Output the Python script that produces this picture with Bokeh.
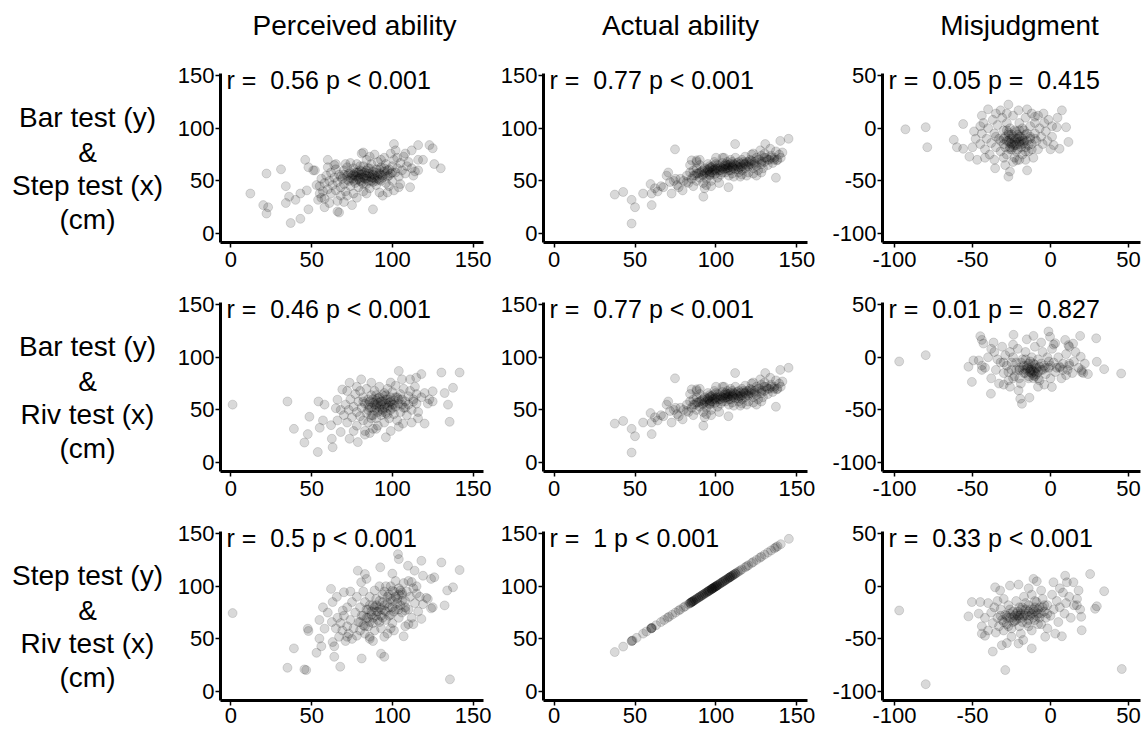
from bokeh.plotting import figure
from bokeh.layouts import gridplot, column
from bokeh.models import Range1d, Label, FixedTicker
from bokeh.embed import file_html
from bokeh.resources import INLINE
from bokeh.core.properties import value

FONT = "Liberation Sans"

# ---------------- data (cm) ----------------
col_titles = ["Perceived ability", "Actual ability", "Misjudgment"]
row_labels = [
    ["Bar test (y)", "&", "Step test (x)", "(cm)"],
    ["Bar test (y)", "&", "Riv test (x)", "(cm)"],
    ["Step test (y)", "&", "Riv test (x)", "(cm)"],
]
r_values = [["0.56", "0.77", "0.05"], ["0.46", "0.77", "0.01"], ["0.5", "1", "0.33"]]
p_values = [["< 0.001", "< 0.001", "= 0.415"], ["< 0.001", "< 0.001", "= 0.827"],
            ["< 0.001", "< 0.001", "< 0.001"]]
ticks_ability = [0, 50, 100, 150]
ticks_misjudgment = [-100, -50, 0, 50]

# row 1, perceived: step test (x) vs bar test (y)
perceived_step_bar = [
    (12, 38), (22, 57), (20, 27), (22, 19), (23, 25), (31, 61), (34, 45), (34, 29), (37, 10), (36, 35),
    (40, 32), (43, 38), (43, 14), (46, 70), (47, 41), (48, 63), (51, 60), (48, 23), (52, 60), (54, 32),
    (56, 34), (58, 25), (60, 70), (61, 29), (65, 66), (66, 21), (67, 20), (71, 66), (72, 36), (75, 27),
    (81, 76), (82, 77), (84, 70), (86, 73), (88, 23), (93, 70), (94, 36), (97, 39), (101, 41), (101, 85),
    (102, 79), (103, 72), (105, 47), (111, 44), (112, 79), (114, 59), (116, 84), (116, 70), (119, 70), (123, 84),
    (125, 81), (126, 66), (130, 62), (116, 60),
    (55, 45), (56, 52), (57, 40), (58, 48), (59, 55), (60, 42), (61, 50), (62, 38), (62, 58), (63, 46),
    (64, 53), (65, 41), (65, 61), (66, 49), (67, 56), (68, 44), (68, 36), (69, 52), (70, 60), (70, 47),
    (71, 40), (72, 55), (72, 63), (73, 50), (74, 45), (74, 58), (75, 52), (76, 62), (76, 38), (77, 48),
    (77, 55), (78, 66), (78, 51), (79, 58), (79, 44), (80, 53), (80, 60), (81, 49), (81, 56), (82, 64),
    (82, 40), (83, 52), (83, 58), (84, 47), (84, 55), (85, 62), (85, 50), (86, 57), (86, 43), (87, 53),
    (87, 66), (88, 59), (88, 49), (89, 55), (90, 61), (90, 46), (91, 52), (91, 68), (92, 57), (93, 50),
    (93, 63), (94, 55), (95, 59), (96, 48), (96, 66), (97, 54), (98, 61), (99, 57), (100, 64), (100, 50),
    (101, 70), (102, 58), (103, 62), (104, 54), (105, 67), (106, 60), (107, 73), (108, 57), (109, 64), (110, 68),
    (112, 62), (113, 55), (66, 31), (70, 30), (78, 34), (84, 38), (92, 39), (60, 63), (64, 65), (74, 67),
    (89, 75), (95, 72), (99, 76), (108, 76), (104, 44), (98, 45), (58, 33), (53, 46), (55, 38),
    (68, 54), (70, 56), (72, 51), (73, 57), (75, 55), (76, 50), (77, 58), (78, 54), (79, 52), (80, 56),
    (80, 50), (81, 59), (82, 53), (83, 55), (84, 52), (85, 57), (86, 54), (87, 50), (88, 56), (89, 52),
    (90, 58), (91, 55), (92, 51), (93, 56), (94, 53), (95, 62), (96, 57), (97, 60), (98, 55), (100, 58),
    (76, 56), (82, 47), (86, 62), (90, 50), (74, 53), (84, 60), (88, 53), (78, 58), (92, 61), (80, 64),
]

# rows 1 and 2, actual: step/riv test (x) vs bar test (y)
actual_step_bar = [
    (37.5, 37), (42.7, 39.5), (47.9, 32), (50, 25), (47.9, 9.5), (55, 38), (59.6, 47), (60.3, 38), (60.3, 27),
    (62.3, 43), (67.5, 44), (69.5, 55), (70.5, 58), (71.6, 49), (72.6, 38), (74.7, 80), (75, 52), (77, 44),
    (79.4, 41), (82, 49), (85, 69.5), (88, 69.5), (92.2, 35), (94, 46), (96, 56), (107.7, 44), (111.8, 85),
    (116, 56), (125, 55), (130.4, 85), (137, 53), (139.7, 88), (144.8, 90), (141, 77), (137.6, 69.5),
    (133.5, 80.5), (127.3, 79), (123, 76),
    (80, 50), (82, 55), (83, 48), (84, 58), (85, 52), (86, 60), (87, 55), (88, 50), (88, 62), (89, 57),
    (90, 53), (90, 65), (91, 59), (92, 55), (92, 48), (93, 62), (94, 58), (94, 52), (95, 66), (95, 60),
    (96, 55), (96, 62), (97, 58), (97, 50), (98, 64), (98, 60), (99, 56), (99, 68), (100, 62), (100, 57),
    (101, 53), (101, 65), (102, 60), (103, 63), (103, 56), (104, 67), (105, 61), (105, 72), (106, 58), (106, 64),
    (107, 62), (107, 68), (108, 55), (108, 65), (109, 60), (109, 70), (110, 63), (110, 57), (111, 66), (112, 61),
    (112, 72), (113, 64), (114, 58), (114, 68), (115, 63), (116, 70), (116, 60), (117, 66), (118, 62), (118, 73),
    (119, 68), (120, 64), (120, 58), (121, 70), (122, 66), (122, 75), (123, 62), (124, 68), (125, 72), (125, 64),
    (126, 60), (127, 70), (128, 66), (128, 74), (129, 62), (130, 68), (130, 76), (131, 72), (132, 65), (133, 70),
    (134, 74), (135, 67), (136, 72), (137, 78), (138, 70), (139, 75), (140, 72), (86, 45), (90, 70), (93, 43),
    (97, 45), (102, 48), (104, 72), (111, 54), (115, 54), (119, 55), (123, 57), (128, 58), (84, 65), (88, 68),
    (100, 72), (76, 46), (78, 52), (74, 50), (64, 40), (66, 45),
    (88, 57), (90, 58), (92, 60), (93, 57), (95, 61), (96, 59), (97, 63), (98, 58), (99, 61), (100, 60),
    (101, 62), (102, 64), (103, 60), (104, 62), (105, 64), (106, 62), (107, 65), (108, 63), (108, 60), (109, 66),
    (110, 64), (111, 62), (112, 65), (113, 67), (114, 63), (115, 66), (116, 64), (117, 68), (118, 66), (119, 64),
    (120, 68), (121, 66), (122, 69), (124, 66), (126, 70), (128, 68), (130, 72), (132, 70), (134, 72), (136, 70),
    (96, 64), (100, 66), (104, 58), (92, 56), (86, 55), (110, 68), (114, 61), (106, 66),
]

# row 1, misjudgment: step test (x) vs bar test (y)
misjudge_step_bar = [
    (-93, -1), (-80, 1), (-79, -18), (-62, -11), (-60, -18), (-56, 4), (-56, -19.5), (-52, -27), (-47, -30),
    (-49, -3), (-44, 12), (-40, 18), (-35.5, -38), (-32, 17), (-29, -35), (-27, 22.5), (-27, -46), (-26, -41),
    (-20.5, 17), (-15, 18), (-15, -40), (-10, 11), (-4.5, 14), (-1.3, 8), (1, -8), (4, 1), (4.5, 10),
    (7.3, 17), (10, 1), (11.5, -13), (5.8, -19.5), (2, -16), (-21.6, -30.5),
    (-45, -15), (-44, -5), (-43, 5), (-42, -20), (-41, -10), (-40, 0), (-39, -25), (-38, -14), (-37, 8), (-36, -5),
    (-35, -18), (-34, 3), (-33, -10), (-32, -22), (-31, 10), (-30, -2), (-30, -15), (-29, -8), (-28, 5), (-28, -25),
    (-27, -12), (-26, 0), (-26, -18), (-25, -6), (-24, 12), (-24, -14), (-23, -28), (-22, -3), (-22, -10), (-21, -20),
    (-20, 5), (-20, -15), (-19, -8), (-18, -25), (-18, 0), (-17, -12), (-16, 10), (-16, -18), (-15, -5), (-14, -22),
    (-13, 2), (-13, -10), (-12, -15), (-11, -28), (-10, -5), (-10, 5), (-9, -12), (-8, -20), (-7, 0), (-6, -8),
    (-5, -15), (-4, 5), (-3, -3), (-2, -12), (0, -20), (1, 2), (-24, -32), (-20, -30), (-16, -30), (-36, -30),
    (-30, -28), (-8, 12), (-28, 14), (-35, 14), (-12, 14), (-45, 2), (-48, -10), (-50, -18), (-42, -28), (-26, -20),
    (-23, -16), (-21, -6), (-19, -12), (-17, -2), (-27, -6), (-25, -10), (-23, -2), (-29, -18),
    (-30, -10), (-28, -12), (-27, -4), (-26, -10), (-25, -15), (-24, -8), (-23, -12), (-22, -16), (-21, -10), (-20, -8),
    (-20, -13), (-19, -18), (-18, -10), (-17, -14), (-16, -6), (-15, -12), (-14, -16), (-13, -8), (-25, -20), (-22, -22),
    (-18, -15), (-12, -20), (-28, -2), (-32, -12), (-35, -8), (-10, -10), (-24, -18), (-16, -22), (-20, -2), (-26, -14),
]

# row 2, perceived: riv test (x) vs bar test (y)
perceived_riv_bar = [
    (1, 55), (35, 58), (39, 32), (45.5, 19), (47.6, 27), (48.6, 43.5), (53.8, 10), (54.2, 58), (55, 33), (57, 40),
    (58, 55), (62, 35.5), (62.5, 22.6), (63, 14.5), (65, 51.6), (66, 59.7), (68, 29), (69, 69.4), (73.5, 75.8),
    (73.5, 22.6), (78.6, 19.4), (80.7, 79), (83, 26.5), (87, 75.8), (90, 32), (96, 24), (99, 76), (104, 87),
    (106, 79), (106.6, 37), (111, 79), (114.8, 80.6), (115.9, 42), (118, 84), (120, 37), (122, 56), (125, 58),
    (125, 67.7), (130.4, 85.5), (132.4, 66), (134.5, 55), (135.5, 38.7), (137.6, 71), (141.7, 85.5), (115, 65),
    (113, 58),
    (70, 45), (71, 55), (72, 38), (73, 50), (74, 60), (75, 43), (76, 53), (77, 65), (78, 48), (78, 35),
    (79, 58), (80, 44), (80, 68), (81, 52), (82, 40), (82, 62), (83, 56), (84, 47), (84, 70), (85, 60),
    (85, 38), (86, 52), (87, 64), (87, 45), (88, 57), (88, 32), (89, 50), (89, 68), (90, 55), (90, 42),
    (91, 61), (91, 48), (92, 53), (92, 72), (93, 58), (93, 45), (94, 50), (94, 64), (95, 55), (95, 38),
    (96, 60), (96, 47), (97, 52), (97, 70), (98, 57), (98, 42), (99, 62), (99, 50), (100, 55), (100, 67),
    (101, 46), (101, 59), (102, 53), (102, 73), (103, 62), (103, 40), (104, 56), (105, 65), (105, 48), (106, 60),
    (107, 52), (107, 70), (108, 58), (109, 45), (110, 63), (110, 55), (111, 68), (112, 50), (113, 60), (114, 72),
    (115, 56), (76, 30), (83, 30), (66, 40), (68, 50), (72, 68), (78, 72), (86, 28), (91, 35), (99, 30),
    (104, 34), (116, 48), (118, 62), (120, 66), (123, 60), (112, 38),
    (85, 55), (86, 58), (87, 52), (88, 60), (89, 55), (90, 52), (90, 59), (91, 57), (92, 50), (92, 62),
    (93, 55), (94, 58), (94, 48), (95, 52), (96, 56), (96, 64), (97, 60), (98, 54), (99, 58), (100, 52),
    (101, 55), (102, 62), (104, 60), (85, 50), (88, 45), (82, 58), (106, 55), (108, 52), (95, 66), (90, 64),
    (87, 42), (97, 46),
]

# row 2, misjudgment: riv test (x) vs bar test (y)
misjudge_riv_bar = [
    (-97, -4), (-80, 2), (-52.6, -9), (-49.4, -3), (-45, 20), (-44, 16.5), (-43, 13), (-50.4, -23.4), (-44, -8),
    (-38.2, -34.6), (-36.5, 14), (-23.7, 21.3), (-20.5, -31.4), (-19.4, -39.4), (-18.3, -44.2), (-13.5, -38.4),
    (-15.2, 17), (-10.9, 20.3), (-1.3, 24.5), (-0.3, 19.5), (0.9, -28.2), (3, 13.3), (9.4, 16.5), (11.5, 11.5),
    (14.5, 13), (19, 20.3), (19.4, 0.5), (20, -12.2), (21, -15), (29.3, 18), (29.7, -4.3), (34.4, -11.3),
    (45.3, -15.4), (6, -9), (12, -6), (10, -17),
    (-42, -10), (-40, 0), (-38, -20), (-36, 5), (-35, -12), (-33, -25), (-32, -5), (-31, 10), (-30, -15), (-29, 2),
    (-28, -8), (-27, -22), (-26, 5), (-25, -12), (-24, 0), (-23, -18), (-22, -5), (-21, 8), (-20, -12), (-19, -25),
    (-18, -2), (-17, -15), (-16, 5), (-15, -8), (-14, -20), (-13, -12), (-12, 0), (-12, -15), (-11, -6), (-10, 10),
    (-10, -18), (-9, -10), (-8, -2), (-7, -22), (-6, -12), (-5, 5), (-4, -8), (-3, -16), (-2, 0), (-1, -10),
    (0, -20), (1, 8), (2, -5), (3, -14), (5, 0), (6, -10), (7, -20), (8, -6), (10, 3), (11, -12),
    (12, -8), (14, -15), (15, -4), (16, 5), (18, -10), (20, -14), (22, -6), (24, -16), (-12, -12), (-14, -10),
    (-10, -14), (-16, -12), (-20, -20), (-26, -28), (-8, -28), (-4, -26), (-30, -26), (-34, -2), (-44, -12), (-46, -3),
    (-38, 8), (-24, 12), (-6, 14), (2, 12), (12, 10), (-11, -20), (-13, -4), (-9, -16),
    (-20, -10), (-18, -12), (-17, -8), (-16, -15), (-15, -11), (-14, -6), (-13, -14), (-12, -9), (-11, -13), (-10, -7),
    (-9, -11), (-8, -14), (-7, -9), (-6, -6), (-5, -12), (-14, -18), (-11, -17), (-19, -5), (-22, -12), (-25, -5),
    (-27, -14), (-3, -10), (0, -8), (4, -10), (8, -12), (-8, -20), (-16, -2), (-24, -20), (-30, -5), (-1, -4),
]

# row 3, perceived: riv test (x) vs step test (y)
perceived_riv_step = [
    (1, 74.5), (35, 22.6), (39, 41), (45.5, 21), (46.6, 20.4), (47.6, 59.7), (48, 57.5), (53, 36.8), (54.8, 50.3),
    (56, 43), (54.8, 68), (57, 80), (58, 59.7), (62, 97.5), (62.5, 66), (63, 47), (64, 43), (64, 33), (65.6, 90),
    (67.7, 23.6), (69.3, 77), (70, 94.3), (72, 52), (78.6, 114.8), (80.7, 103.8), (81, 31.4), (83, 111.6),
    (84, 107), (86, 50), (92.5, 118), (93, 36), (95, 33), (99, 60), (103.5, 130.5), (104, 125.8), (106, 94),
    (107, 52.5), (109.7, 119.5), (112, 104), (113.8, 114.8), (118, 124.2), (119, 110), (118, 69), (121, 89),
    (124, 107), (126, 108.5), (125, 80), (130.4, 122.6), (132.4, 81.8), (134, 96), (137.6, 99), (141.7, 115.4),
    (135.7, 11.6), (115, 93), (110, 64), (108, 77),
    (65, 60), (66, 70), (67, 52), (68, 65), (69, 58), (70, 72), (71, 48), (72, 62), (72, 80), (73, 55),
    (74, 68), (75, 50), (75, 85), (76, 60), (77, 75), (78, 53), (78, 90), (79, 66), (80, 58), (80, 80),
    (81, 72), (82, 63), (82, 95), (83, 55), (83, 85), (84, 70), (85, 78), (85, 62), (86, 90), (86, 52),
    (87, 73), (88, 82), (88, 65), (89, 96), (89, 58), (90, 76), (90, 88), (91, 68), (92, 80), (92, 100),
    (93, 72), (93, 60), (94, 85), (95, 77), (95, 95), (96, 68), (97, 90), (97, 55), (98, 80), (99, 100),
    (99, 73), (100, 86), (100, 65), (101, 95), (102, 78), (102, 105), (103, 88), (104, 70), (104, 98), (105, 82),
    (106, 92), (106, 75), (107, 103), (108, 86), (109, 95), (110, 78), (110, 105), (111, 90), (112, 70), (113, 98),
    (114, 84), (115, 100), (116, 76), (117, 90), (119, 83), (122, 88), (124, 79), (113, 64), (108, 62), (101, 58),
    (95, 52), (88, 48), (60, 75), (63, 85), (74, 95), (100, 112),
    (82, 72), (84, 78), (85, 70), (86, 82), (87, 76), (88, 70), (89, 80), (90, 72), (90, 82), (91, 76),
    (92, 86), (93, 78), (94, 70), (94, 92), (95, 82), (96, 76), (97, 84), (98, 72), (99, 88), (100, 80),
    (101, 76), (102, 90), (103, 84), (104, 78), (105, 96), (106, 86), (80, 66), (83, 62), (86, 66), (92, 66),
    (98, 92), (104, 92), (108, 80), (100, 96), (96, 100),
]

# row 3, actual: riv test and step test gave the same distances (r = 1)
actual_riv_cm = [
    37.5, 42.7, 47.9, 48.5, 51, 55, 57, 60, 60.5, 63, 66, 68, 70, 71, 73, 75, 77, 78, 80, 81,
    83, 84, 85, 85.5, 86, 87, 88, 89, 90, 91, 92, 93, 94, 95, 95.5, 96, 97, 97.5, 98, 99,
    100, 101, 102, 103, 104, 105, 106, 107, 108, 108.5, 109, 110, 111, 112, 113, 114, 115, 116, 118, 119,
    120, 122, 123, 125, 127, 128, 130, 132, 134, 136, 137, 138, 140, 145,
    85, 86, 87, 88, 89, 90, 91, 92, 93, 94, 95, 96, 97, 98, 99, 100, 101, 102, 103, 104,
    105, 106, 107, 108, 109, 110, 111, 112, 97.5, 98.5, 99.5, 100.5, 60, 60.2, 48, 84, 84.5,
]
actual_step_cm = [
    37.5, 42.7, 47.9, 48.5, 51, 55, 57, 60, 60.5, 63, 66, 68, 70, 71, 73, 75, 77, 78, 80, 81,
    83, 84, 85, 85.5, 86, 87, 88, 89, 90, 91, 92, 93, 94, 95, 95.5, 96, 97, 97.5, 98, 99,
    100, 101, 102, 103, 104, 105, 106, 107, 108, 108.5, 109, 110, 111, 112, 113, 114, 115, 116, 118, 119,
    120, 122, 123, 125, 127, 128, 130, 132, 134, 136, 137, 138, 140, 145,
    85, 86, 87, 88, 89, 90, 91, 92, 93, 94, 95, 96, 97, 98, 99, 100, 101, 102, 103, 104,
    105, 106, 107, 108, 109, 110, 111, 112, 97.5, 98.5, 99.5, 100.5, 60, 60.2, 48, 84, 84.5,
]

# row 3, misjudgment: riv test (x) vs step test (y)
misjudge_riv_step = [
    (-97, -23), (-80, -93), (-52.6, -28.6), (-50.4, -15), (-45, -15), (-44, -45), (-42, -47), (-35.5, -1),
    (-32.3, -4), (-37, -62), (-31.2, -56), (-28, -54), (-29, -79.6), (-26, 0.6), (-20.5, 1.6), (-20.5, -54.4),
    (-17.5, -51), (-12, -59), (-10.9, 7), (-8.8, 4.7), (-3.4, -48), (1.9, 3.8), (3, -45), (7.3, -47.5),
    (9.4, 10), (10.5, 3.8), (14.7, 3.8), (18, -4), (20, -41.8), (25.4, 11.6), (28.6, -21.4), (29.7, -19),
    (34.4, -4.7), (45.7, -78.6), (19.7, -29), (16.9, -18),
    (-44, -38), (-42, -30), (-40, -42), (-38, -25), (-37, -35), (-36, -20), (-35, -44), (-34, -30), (-33, -38), (-32, -22),
    (-31, -32), (-30, -42), (-29, -27), (-28, -36), (-27, -18), (-26, -30), (-25, -40), (-24, -24), (-23, -33), (-22, -14),
    (-21, -28), (-20, -38), (-19, -22), (-18, -30), (-17, -10), (-16, -26), (-15, -35), (-14, -18), (-13, -28), (-12, -42),
    (-12, -8), (-11, -22), (-10, -32), (-9, -15), (-8, -26), (-7, -20), (-6, -36), (-5, -12), (-4, -24), (-3, -30),
    (-2, -18), (0, -28), (1, -8), (2, -22), (4, -14), (5, -34), (6, -20), (8, -6), (9, -26), (10, -16),
    (12, -10), (13, -30), (15, -18), (17, -12), (19, -22), (-26, -22), (-22, -26), (-18, -20), (-14, -24), (-10, -20),
    (-16, -16), (-20, -28), (-24, -30), (-28, -28), (-8, -36), (-30, -12), (-40, -16), (-46, -26), (-34, -14), (-2, -40),
    (6, -2), (-6, -4), (-14, -2), (-19, -45), (-25, -48),
    (-28, -30), (-26, -26), (-24, -34), (-23, -28), (-22, -32), (-21, -24), (-20, -30), (-19, -26), (-18, -34), (-17, -28),
    (-16, -22), (-15, -28), (-14, -32), (-13, -22), (-12, -26), (-11, -30), (-10, -24), (-9, -28), (-8, -22), (-7, -30),
    (-6, -26), (-5, -20), (-30, -34), (-27, -38), (-14, -38), (-20, -20), (-10, -14), (-4, -18), (-2, -26), (-32, -28),
]

panel_points = [
    [perceived_step_bar, actual_step_bar, misjudge_step_bar],
    [perceived_riv_bar, actual_step_bar, misjudge_riv_bar],
    [perceived_riv_step, list(zip(actual_riv_cm, actual_step_cm)), misjudge_riv_step],
]

# ---------------- layout (pixels; the page has no margin) ----------------
LABEL_W = 165
COL_W = [329, 324, 328]
COL_BL = [55, 49, 64]
COL_BR = [11, 11, 6]
HEADER_H = 50
ROW_BT = [23, 21, 21]      # space above the visible axis top
ROW_BB = [39, 39, 32]
X_STANDOFF = [4, 4, 2]
AXIS_H = 169               # height of the drawn axes box
EXTRA = 14                 # frame extends this far above the axis top, room for the r/p text
ROW_H = [ROW_BT[i] + AXIS_H + ROW_BB[i] for i in range(3)]

X_RANGES = [(-6.5, 156.5), (-6.5, 156.5), (-107.7, 57.7)]
Y_RANGES = [(-8.5, 152), (-8.5, 152), (-108.5, 52)]
TICKS = [ticks_ability, ticks_ability, ticks_misjudgment]

ANN_SIZE = 25
EM = {"r": 0.333, " ": 0.278, "=": 0.584, "p": 0.556, "<": 0.584, ".": 0.278}


def text_w(s):
    return sum(EM.get(ch, 0.556) for ch in s) * ANN_SIZE


def blank(width, height, top=0, bottom=0):
    inner = height - top - bottom
    p = figure(width=width, height=height, x_range=Range1d(0, width),
               y_range=Range1d(inner, 0),
               x_axis_type=None, y_axis_type=None, output_backend="svg",
               toolbar_location=None, min_border_left=0, min_border_right=0,
               min_border_top=top, min_border_bottom=bottom)
    p.outline_line_color = None
    p.xgrid.visible = False
    p.ygrid.visible = False
    return p


def panel(r, c):
    xr, yr = X_RANGES[c], Y_RANGES[c]
    ypx = (yr[1] - yr[0]) / AXIS_H
    y_top = yr[1] + EXTRA * ypx
    p = figure(width=COL_W[c], height=ROW_H[r], x_range=Range1d(*xr), y_range=Range1d(yr[0], y_top),
               output_backend="svg", toolbar_location=None,
               min_border_left=COL_BL[c], min_border_right=COL_BR[c],
               min_border_top=ROW_BT[r] - EXTRA, min_border_bottom=ROW_BB[r])
    p.outline_line_color = None
    p.xgrid.visible = False
    p.ygrid.visible = False
    pts = panel_points[r][c]
    xs = [a for a, b in pts]
    ys = [b for a, b in pts]
    p.scatter(xs, ys, size=9, fill_color="black", fill_alpha=0.15,
              line_color="black", line_alpha=0.13, line_width=1)
    p.xaxis.ticker = FixedTicker(ticks=TICKS[c])
    p.yaxis.ticker = FixedTicker(ticks=TICKS[c])
    p.yaxis.bounds = (yr[0], yr[1])
    overrides = {t: str(t) for t in TICKS[c]}
    p.xaxis.major_label_overrides = overrides
    p.yaxis.major_label_overrides = overrides
    for ax in (p.xaxis[0], p.yaxis[0]):
        ax.axis_line_width = 3
        ax.axis_line_color = "black"
        ax.major_tick_line_width = 1.5
        ax.major_tick_line_color = "black"
        ax.major_tick_out = 5
        ax.major_tick_in = 0
        ax.minor_tick_line_color = None
        ax.major_label_text_font = FONT
        ax.major_label_text_font_size = "22px"
        ax.major_label_text_color = "black"
    p.xaxis.major_label_standoff = X_STANDOFF[r]
    p.yaxis.major_label_standoff = 1

    # annotation "r =  <r> p <op>  <value>", drawn in pieces to keep R's double spaces
    op, pv = p_values[r][c].split(" ", 1)
    if op == "=":
        parts = ["r =", r_values[r][c] + " p =", pv]
    else:
        parts = ["r =", r_values[r][c] + " p " + op + " " + pv]
    off = 6.0
    for s in parts:
        p.add_layout(Label(x=xr[0], y=yr[1] - 6 * ypx, x_offset=off, text=s,
                           text_font=FONT, text_font_size="%dpx" % ANN_SIZE, text_color="black",
                           text_baseline="middle", text_align="left"))
        off += text_w(s) + text_w("  ")
    return p


header = blank(LABEL_W + sum(COL_W), HEADER_H)
title_x = [354, 680, 1019]
header.text(x=title_x, y=[25, 25, 25], text=col_titles, text_font=value(FONT),
            text_font_size=value("28px"), text_align="center", text_baseline="middle",
            text_color="black")

rows = []
for r in range(3):
    lab = blank(LABEL_W, ROW_H[r], top=ROW_BT[r] - EXTRA, bottom=ROW_BB[r])
    offs = [EXTRA + 44, EXTRA + 78.5, EXTRA + 112, EXTRA + 146]
    lab.text(x=[87] * 4, y=offs, text=row_labels[r],
             text_font=value(FONT), text_font_size=value("28px"), text_align="center",
             text_baseline="middle", text_color="black")
    rows.append([lab] + [panel(r, c) for c in range(3)])

grid = gridplot(rows, toolbar_location=None)
layout = column(header, grid)

open("out.html", "w").write(file_html(layout, INLINE))
